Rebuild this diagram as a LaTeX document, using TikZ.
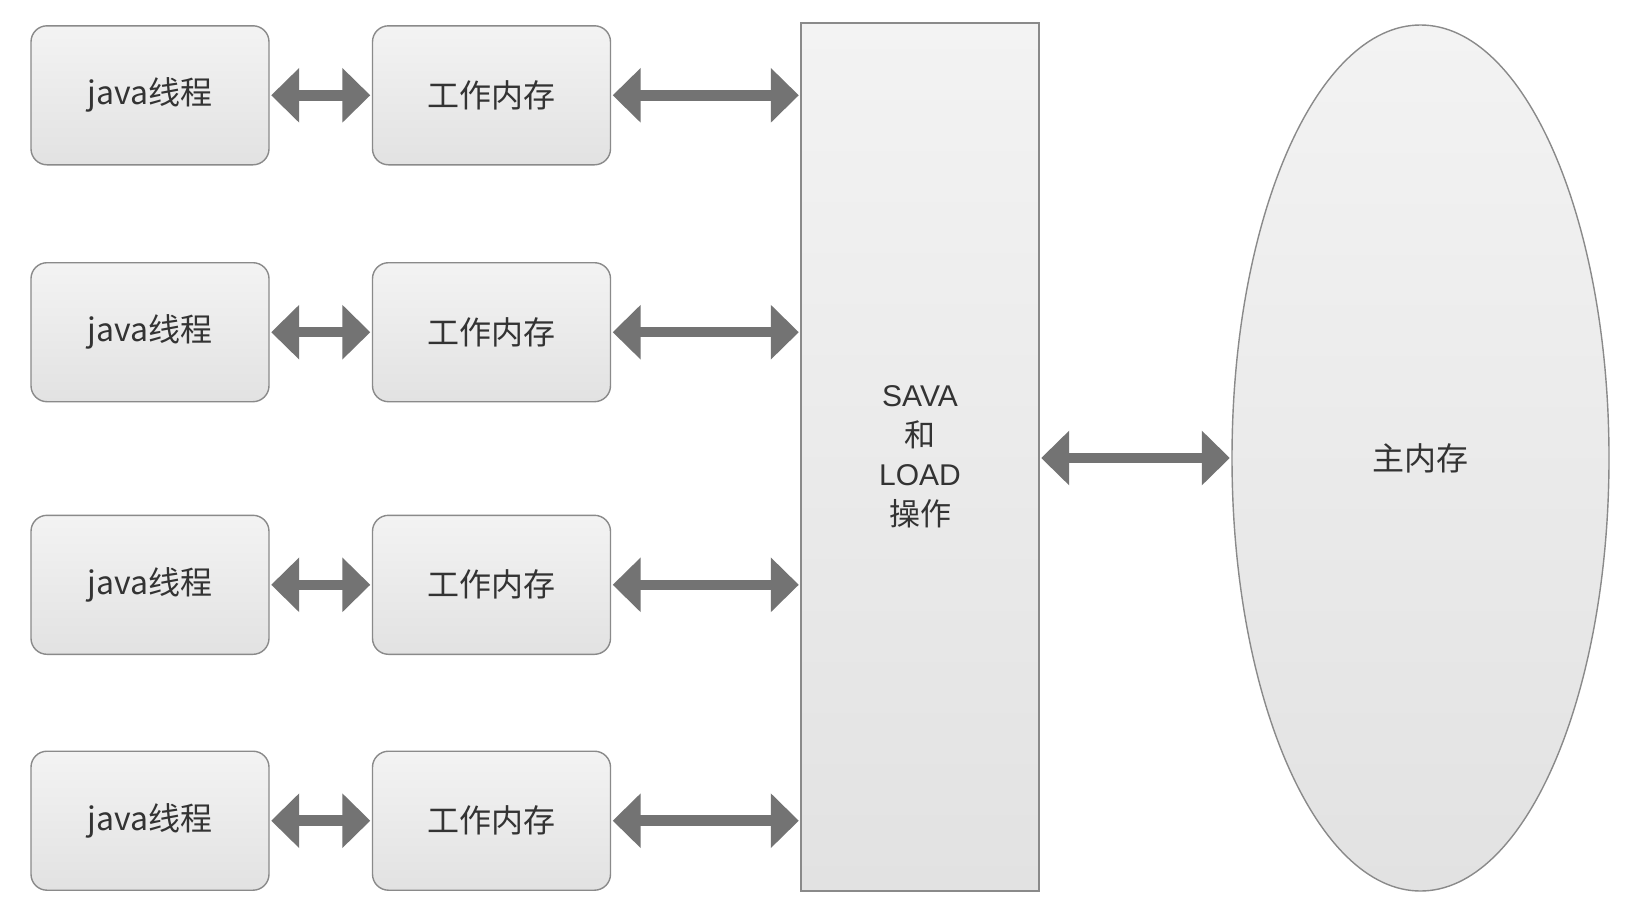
\documentclass[tikz,border=0pt]{standalone}
\usepackage{fontspec}
\setmainfont{Noto Sans CJK SC}
\newfontfamily\latinfont{Liberation Sans}
\usetikzlibrary{arrows.meta,shapes.geometric}
\definecolor{edgegray}{HTML}{8A8A8A}
\definecolor{arrowgray}{HTML}{737373}
\definecolor{textgray}{HTML}{333333}
\definecolor{filltop}{HTML}{F3F3F3}
\definecolor{fillbot}{HTML}{E2E2E2}
\newcommand{\opword}[1]{{\latinfont\fontsize{30}{39.5}\selectfont #1}}
\tikzset{
  card/.style={draw=edgegray, line width=1.4pt, rounded corners=16pt,
    top color=filltop, bottom color=fillbot,
    minimum width=238pt, minimum height=139pt, inner sep=0pt,
    text=textgray, font=\fontsize{32}{36}\selectfont},
  opbox/.style={draw=edgegray, line width=1.4pt,
    top color=filltop, bottom color=fillbot,
    minimum width=238pt, minimum height=868pt, inner sep=0pt,
    text=textgray, align=center, font=\fontsize{31}{39.5}\selectfont},
  memory/.style={ellipse, draw=edgegray, line width=1.4pt,
    top color=filltop, bottom color=fillbot,
    minimum width=377pt, minimum height=866pt, inner sep=0pt,
    text=textgray, font=\fontsize{32}{36}\selectfont},
  biarrow/.style={draw=arrowgray, line width=10.5pt,
    {Triangle[width=53pt,length=28pt]}-{Triangle[width=53pt,length=28pt]},
    shorten <=1.5pt, shorten >=1.5pt}
}
\begin{document}
\begin{tikzpicture}[x=1pt,y=-1pt]
  \useasboundingbox (0,0) rectangle (1633,916);
  \fill[white] (0,0) rectangle (1633,916);

  % central save/load block and main memory
  \node[opbox] (ops) at (920,457) {\opword{SAVA}\\和\\\opword{LOAD}\\操作};
  \node[memory] (mem) at (1420.5,458) {主内存};
  \draw[biarrow] (ops.east |- mem.west) -- (mem.west);

  % four threads, each with its own working memory
  \foreach \i/\y in {1/95.3, 2/332.2, 3/584.8, 4/820.7} {
    \node[card] (thread\i) at (150,\y) {java线程};
    \node[card] (work\i) at (491.5,\y) {工作内存};
    \draw[biarrow] (thread\i.east) -- (work\i.west);
    \draw[biarrow] (work\i.east) -- (ops.west |- work\i.east);
  }
\end{tikzpicture}
\end{document}
